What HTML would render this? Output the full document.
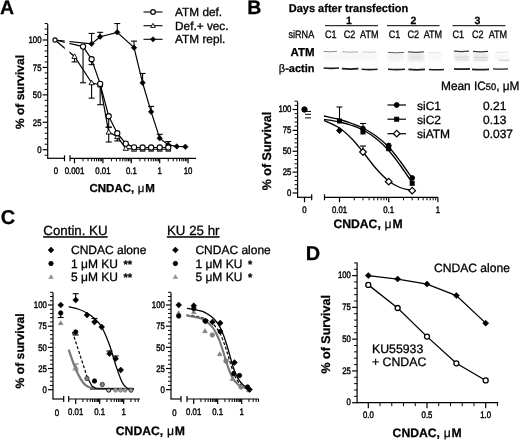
<!DOCTYPE html>
<html><head><meta charset="utf-8"><title>Figure</title>
<style>html,body{margin:0;padding:0;background:#fff;overflow:hidden}svg{display:block;font-family:'Liberation Sans', sans-serif}</style>
</head><body>
<svg width="520" height="440" viewBox="0 0 520 440" text-rendering="geometricPrecision">
<rect x="0" y="0" width="520" height="440" fill="#fff"/>
<text x="0.00" y="13.80" font-size="19.5" font-weight="bold" text-anchor="start" fill="#000"  stroke="#000" stroke-width="0.25">A</text>
<line x1="47.70" y1="24.00" x2="47.70" y2="158.30" stroke="#000" stroke-width="1.2" />
<line x1="44.70" y1="155.19" x2="47.70" y2="155.19" stroke="#000" stroke-width="1.0" />
<line x1="42.70" y1="149.70" x2="47.70" y2="149.70" stroke="#000" stroke-width="1.2" />
<line x1="44.70" y1="144.21" x2="47.70" y2="144.21" stroke="#000" stroke-width="1.0" />
<line x1="44.70" y1="138.73" x2="47.70" y2="138.73" stroke="#000" stroke-width="1.0" />
<line x1="44.70" y1="133.25" x2="47.70" y2="133.25" stroke="#000" stroke-width="1.0" />
<line x1="44.70" y1="127.76" x2="47.70" y2="127.76" stroke="#000" stroke-width="1.0" />
<line x1="42.70" y1="122.27" x2="47.70" y2="122.27" stroke="#000" stroke-width="1.2" />
<line x1="44.70" y1="116.79" x2="47.70" y2="116.79" stroke="#000" stroke-width="1.0" />
<line x1="44.70" y1="111.30" x2="47.70" y2="111.30" stroke="#000" stroke-width="1.0" />
<line x1="44.70" y1="105.82" x2="47.70" y2="105.82" stroke="#000" stroke-width="1.0" />
<line x1="44.70" y1="100.33" x2="47.70" y2="100.33" stroke="#000" stroke-width="1.0" />
<line x1="42.70" y1="94.85" x2="47.70" y2="94.85" stroke="#000" stroke-width="1.2" />
<line x1="44.70" y1="89.36" x2="47.70" y2="89.36" stroke="#000" stroke-width="1.0" />
<line x1="44.70" y1="83.88" x2="47.70" y2="83.88" stroke="#000" stroke-width="1.0" />
<line x1="44.70" y1="78.39" x2="47.70" y2="78.39" stroke="#000" stroke-width="1.0" />
<line x1="44.70" y1="72.91" x2="47.70" y2="72.91" stroke="#000" stroke-width="1.0" />
<line x1="42.70" y1="67.42" x2="47.70" y2="67.42" stroke="#000" stroke-width="1.2" />
<line x1="44.70" y1="61.94" x2="47.70" y2="61.94" stroke="#000" stroke-width="1.0" />
<line x1="44.70" y1="56.45" x2="47.70" y2="56.45" stroke="#000" stroke-width="1.0" />
<line x1="44.70" y1="50.97" x2="47.70" y2="50.97" stroke="#000" stroke-width="1.0" />
<line x1="44.70" y1="45.48" x2="47.70" y2="45.48" stroke="#000" stroke-width="1.0" />
<line x1="42.70" y1="40.00" x2="47.70" y2="40.00" stroke="#000" stroke-width="1.2" />
<line x1="44.70" y1="34.51" x2="47.70" y2="34.51" stroke="#000" stroke-width="1.0" />
<line x1="44.70" y1="29.03" x2="47.70" y2="29.03" stroke="#000" stroke-width="1.0" />
<line x1="44.70" y1="23.54" x2="47.70" y2="23.54" stroke="#000" stroke-width="1.0" />
<text transform="translate(41.50 153.00) scale(0.82 1)" x="0" y="0" font-size="9.5" font-weight="normal" text-anchor="end" fill="#000"  stroke="#000" stroke-width="0.42">0</text>
<text transform="translate(41.50 125.57) scale(0.82 1)" x="0" y="0" font-size="9.5" font-weight="normal" text-anchor="end" fill="#000"  stroke="#000" stroke-width="0.42">25</text>
<text transform="translate(41.50 98.15) scale(0.82 1)" x="0" y="0" font-size="9.5" font-weight="normal" text-anchor="end" fill="#000"  stroke="#000" stroke-width="0.42">50</text>
<text transform="translate(41.50 70.72) scale(0.82 1)" x="0" y="0" font-size="9.5" font-weight="normal" text-anchor="end" fill="#000"  stroke="#000" stroke-width="0.42">75</text>
<text transform="translate(41.50 43.30) scale(0.82 1)" x="0" y="0" font-size="9.5" font-weight="normal" text-anchor="end" fill="#000"  stroke="#000" stroke-width="0.42">100</text>
<line x1="47.10" y1="158.30" x2="64.50" y2="158.30" stroke="#000" stroke-width="1.2" />
<line x1="64.50" y1="155.30" x2="64.50" y2="161.30" stroke="#000" stroke-width="1.2" />
<line x1="70.00" y1="155.30" x2="70.00" y2="161.30" stroke="#000" stroke-width="1.2" />
<line x1="70.00" y1="158.30" x2="196.00" y2="158.30" stroke="#000" stroke-width="1.2" />
<line x1="74.50" y1="158.30" x2="74.50" y2="163.30" stroke="#000" stroke-width="1.2" />
<line x1="83.05" y1="158.30" x2="83.05" y2="161.30" stroke="#000" stroke-width="1.0" />
<line x1="88.05" y1="158.30" x2="88.05" y2="161.30" stroke="#000" stroke-width="1.0" />
<line x1="91.60" y1="158.30" x2="91.60" y2="161.30" stroke="#000" stroke-width="1.0" />
<line x1="94.35" y1="158.30" x2="94.35" y2="161.30" stroke="#000" stroke-width="1.0" />
<line x1="96.60" y1="158.30" x2="96.60" y2="161.30" stroke="#000" stroke-width="1.0" />
<line x1="98.50" y1="158.30" x2="98.50" y2="161.30" stroke="#000" stroke-width="1.0" />
<line x1="100.15" y1="158.30" x2="100.15" y2="161.30" stroke="#000" stroke-width="1.0" />
<line x1="101.60" y1="158.30" x2="101.60" y2="161.30" stroke="#000" stroke-width="1.0" />
<line x1="102.90" y1="158.30" x2="102.90" y2="163.30" stroke="#000" stroke-width="1.2" />
<line x1="111.45" y1="158.30" x2="111.45" y2="161.30" stroke="#000" stroke-width="1.0" />
<line x1="116.45" y1="158.30" x2="116.45" y2="161.30" stroke="#000" stroke-width="1.0" />
<line x1="120.00" y1="158.30" x2="120.00" y2="161.30" stroke="#000" stroke-width="1.0" />
<line x1="122.75" y1="158.30" x2="122.75" y2="161.30" stroke="#000" stroke-width="1.0" />
<line x1="125.00" y1="158.30" x2="125.00" y2="161.30" stroke="#000" stroke-width="1.0" />
<line x1="126.90" y1="158.30" x2="126.90" y2="161.30" stroke="#000" stroke-width="1.0" />
<line x1="128.55" y1="158.30" x2="128.55" y2="161.30" stroke="#000" stroke-width="1.0" />
<line x1="130.00" y1="158.30" x2="130.00" y2="161.30" stroke="#000" stroke-width="1.0" />
<line x1="131.30" y1="158.30" x2="131.30" y2="163.30" stroke="#000" stroke-width="1.2" />
<line x1="139.85" y1="158.30" x2="139.85" y2="161.30" stroke="#000" stroke-width="1.0" />
<line x1="144.85" y1="158.30" x2="144.85" y2="161.30" stroke="#000" stroke-width="1.0" />
<line x1="148.40" y1="158.30" x2="148.40" y2="161.30" stroke="#000" stroke-width="1.0" />
<line x1="151.15" y1="158.30" x2="151.15" y2="161.30" stroke="#000" stroke-width="1.0" />
<line x1="153.40" y1="158.30" x2="153.40" y2="161.30" stroke="#000" stroke-width="1.0" />
<line x1="155.30" y1="158.30" x2="155.30" y2="161.30" stroke="#000" stroke-width="1.0" />
<line x1="156.95" y1="158.30" x2="156.95" y2="161.30" stroke="#000" stroke-width="1.0" />
<line x1="158.40" y1="158.30" x2="158.40" y2="161.30" stroke="#000" stroke-width="1.0" />
<line x1="159.70" y1="158.30" x2="159.70" y2="163.30" stroke="#000" stroke-width="1.2" />
<line x1="168.25" y1="158.30" x2="168.25" y2="161.30" stroke="#000" stroke-width="1.0" />
<line x1="173.25" y1="158.30" x2="173.25" y2="161.30" stroke="#000" stroke-width="1.0" />
<line x1="176.80" y1="158.30" x2="176.80" y2="161.30" stroke="#000" stroke-width="1.0" />
<line x1="179.55" y1="158.30" x2="179.55" y2="161.30" stroke="#000" stroke-width="1.0" />
<line x1="181.80" y1="158.30" x2="181.80" y2="161.30" stroke="#000" stroke-width="1.0" />
<line x1="183.70" y1="158.30" x2="183.70" y2="161.30" stroke="#000" stroke-width="1.0" />
<line x1="185.35" y1="158.30" x2="185.35" y2="161.30" stroke="#000" stroke-width="1.0" />
<line x1="186.80" y1="158.30" x2="186.80" y2="161.30" stroke="#000" stroke-width="1.0" />
<line x1="188.10" y1="158.30" x2="188.10" y2="163.30" stroke="#000" stroke-width="1.2" />
<text transform="translate(56.00 173.60) scale(0.82 1)" x="0" y="0" font-size="9.5" font-weight="normal" text-anchor="middle" fill="#000"  stroke="#000" stroke-width="0.42">0</text>
<text transform="translate(74.50 173.60) scale(0.82 1)" x="0" y="0" font-size="9.5" font-weight="normal" text-anchor="middle" fill="#000"  stroke="#000" stroke-width="0.42">0.001</text>
<text transform="translate(102.90 173.60) scale(0.82 1)" x="0" y="0" font-size="9.5" font-weight="normal" text-anchor="middle" fill="#000"  stroke="#000" stroke-width="0.42">0.01</text>
<text transform="translate(131.30 173.60) scale(0.82 1)" x="0" y="0" font-size="9.5" font-weight="normal" text-anchor="middle" fill="#000"  stroke="#000" stroke-width="0.42">0.1</text>
<text transform="translate(159.70 173.60) scale(0.82 1)" x="0" y="0" font-size="9.5" font-weight="normal" text-anchor="middle" fill="#000"  stroke="#000" stroke-width="0.42">1</text>
<text transform="translate(188.10 173.60) scale(0.82 1)" x="0" y="0" font-size="9.5" font-weight="normal" text-anchor="middle" fill="#000"  stroke="#000" stroke-width="0.42">10</text>
<text x="89.50" y="192.30" font-size="11.5" font-weight="bold" text-anchor="start" fill="#000"  stroke="#000" stroke-width="0.25">CNDAC, <tspan font-weight="normal" dx="0.4">μ</tspan><tspan dx="0.8">M</tspan></text>
<text transform="translate(24.00 92.00) rotate(-90) scale(1.0 1)" x="0" y="0" font-size="12" font-weight="bold" text-anchor="middle" fill="#000"  stroke="#000" stroke-width="0.25">% of survival</text>
<line x1="91.60" y1="43.84" x2="91.60" y2="33.42" stroke="#000" stroke-width="1.1" />
<line x1="88.60" y1="33.42" x2="94.60" y2="33.42" stroke="#000" stroke-width="1.1" />
<line x1="100.15" y1="36.71" x2="100.15" y2="32.32" stroke="#000" stroke-width="1.1" />
<line x1="97.15" y1="32.32" x2="103.15" y2="32.32" stroke="#000" stroke-width="1.1" />
<line x1="117.25" y1="32.32" x2="117.25" y2="23.54" stroke="#000" stroke-width="1.1" />
<line x1="114.25" y1="23.54" x2="120.25" y2="23.54" stroke="#000" stroke-width="1.1" />
<line x1="134.05" y1="47.68" x2="134.05" y2="41.10" stroke="#000" stroke-width="1.1" />
<line x1="131.05" y1="41.10" x2="137.05" y2="41.10" stroke="#000" stroke-width="1.1" />
<line x1="142.60" y1="82.78" x2="142.60" y2="73.46" stroke="#000" stroke-width="1.1" />
<line x1="139.60" y1="73.46" x2="145.60" y2="73.46" stroke="#000" stroke-width="1.1" />
<line x1="151.15" y1="111.85" x2="151.15" y2="106.37" stroke="#000" stroke-width="1.1" />
<line x1="148.15" y1="106.37" x2="154.15" y2="106.37" stroke="#000" stroke-width="1.1" />
<line x1="159.70" y1="138.18" x2="159.70" y2="134.34" stroke="#000" stroke-width="1.1" />
<line x1="156.70" y1="134.34" x2="162.70" y2="134.34" stroke="#000" stroke-width="1.1" />
<line x1="168.25" y1="144.87" x2="168.25" y2="141.58" stroke="#000" stroke-width="1.1" />
<line x1="165.25" y1="141.58" x2="171.25" y2="141.58" stroke="#000" stroke-width="1.1" />
<path d="M55.00 40.00L91.60 43.84L100.15 36.71L117.25 32.32L134.05 47.68L142.60 82.78L151.15 111.85L159.70 138.18L168.25 144.87L176.80 146.41L185.35 146.74" stroke="#000" stroke-width="1.2" fill="none" />
<line x1="74.50" y1="56.45" x2="74.50" y2="61.94" stroke="#000" stroke-width="1.1" />
<line x1="71.50" y1="61.94" x2="77.50" y2="61.94" stroke="#000" stroke-width="1.1" />
<line x1="91.60" y1="82.78" x2="91.60" y2="98.14" stroke="#000" stroke-width="1.1" />
<line x1="88.60" y1="98.14" x2="94.60" y2="98.14" stroke="#000" stroke-width="1.1" />
<line x1="108.70" y1="132.15" x2="108.70" y2="127.21" stroke="#000" stroke-width="1.1" />
<line x1="105.70" y1="127.21" x2="111.70" y2="127.21" stroke="#000" stroke-width="1.1" />
<line x1="108.70" y1="132.15" x2="108.70" y2="142.02" stroke="#000" stroke-width="1.1" />
<line x1="105.70" y1="142.02" x2="111.70" y2="142.02" stroke="#000" stroke-width="1.1" />
<line x1="117.25" y1="136.54" x2="117.25" y2="140.92" stroke="#000" stroke-width="1.1" />
<line x1="114.25" y1="140.92" x2="120.25" y2="140.92" stroke="#000" stroke-width="1.1" />
<path d="M55.00 40.00L74.50 56.45L91.60 82.78L100.15 84.98L108.70 132.15L117.25 136.54L125.80 148.38L134.05 149.26L142.60 149.26L151.15 149.26L159.70 149.26L168.25 149.26" stroke="#000" stroke-width="1.2" fill="none" />
<line x1="83.05" y1="46.58" x2="83.05" y2="82.78" stroke="#000" stroke-width="1.1" />
<line x1="80.05" y1="82.78" x2="86.05" y2="82.78" stroke="#000" stroke-width="1.1" />
<line x1="91.60" y1="59.20" x2="91.60" y2="64.68" stroke="#000" stroke-width="1.1" />
<line x1="88.60" y1="64.68" x2="94.60" y2="64.68" stroke="#000" stroke-width="1.1" />
<line x1="100.15" y1="83.88" x2="100.15" y2="104.72" stroke="#000" stroke-width="1.1" />
<line x1="97.15" y1="104.72" x2="103.15" y2="104.72" stroke="#000" stroke-width="1.1" />
<line x1="108.70" y1="116.24" x2="108.70" y2="127.21" stroke="#000" stroke-width="1.1" />
<line x1="105.70" y1="127.21" x2="111.70" y2="127.21" stroke="#000" stroke-width="1.1" />
<path d="M55.00 40.00L83.05 46.58L91.60 59.20L100.15 83.88L108.70 116.24L117.25 133.25L125.80 143.67L134.05 147.29L142.60 147.51L151.15 147.51L159.70 147.51L168.25 147.51" stroke="#000" stroke-width="1.2" fill="none" />
<rect x="64.8" y="36" width="4.6" height="24" fill="#fff"/>
<path d="M88.85 43.84L91.60 41.09L94.35 43.84L91.60 46.59Z" fill="#000" stroke="#000" stroke-width="0.6"/>
<path d="M97.40 36.71L100.15 33.96L102.90 36.71L100.15 39.46Z" fill="#000" stroke="#000" stroke-width="0.6"/>
<path d="M114.50 32.32L117.25 29.57L120.00 32.32L117.25 35.07Z" fill="#000" stroke="#000" stroke-width="0.6"/>
<path d="M131.30 47.68L134.05 44.93L136.80 47.68L134.05 50.43Z" fill="#000" stroke="#000" stroke-width="0.6"/>
<path d="M139.85 82.78L142.60 80.03L145.35 82.78L142.60 85.53Z" fill="#000" stroke="#000" stroke-width="0.6"/>
<path d="M148.40 111.85L151.15 109.10L153.90 111.85L151.15 114.60Z" fill="#000" stroke="#000" stroke-width="0.6"/>
<path d="M156.95 138.18L159.70 135.43L162.45 138.18L159.70 140.93Z" fill="#000" stroke="#000" stroke-width="0.6"/>
<path d="M165.50 144.87L168.25 142.12L171.00 144.87L168.25 147.62Z" fill="#000" stroke="#000" stroke-width="0.6"/>
<path d="M174.05 146.41L176.80 143.66L179.55 146.41L176.80 149.16Z" fill="#000" stroke="#000" stroke-width="0.6"/>
<path d="M182.60 146.74L185.35 143.99L188.10 146.74L185.35 149.49Z" fill="#000" stroke="#000" stroke-width="0.6"/>
<path d="M71.90 58.40L74.50 53.85L77.10 58.40Z" fill="#fff" stroke="#000" stroke-width="0.9"/>
<path d="M89.00 84.73L91.60 80.18L94.20 84.73Z" fill="#fff" stroke="#000" stroke-width="0.9"/>
<path d="M97.55 86.93L100.15 82.38L102.75 86.93Z" fill="#fff" stroke="#000" stroke-width="0.9"/>
<path d="M106.10 134.10L108.70 129.55L111.30 134.10Z" fill="#fff" stroke="#000" stroke-width="0.9"/>
<path d="M114.65 138.49L117.25 133.94L119.85 138.49Z" fill="#fff" stroke="#000" stroke-width="0.9"/>
<path d="M123.20 150.33L125.80 145.78L128.40 150.33Z" fill="#fff" stroke="#000" stroke-width="0.9"/>
<path d="M131.45 151.21L134.05 146.66L136.65 151.21Z" fill="#fff" stroke="#000" stroke-width="0.9"/>
<path d="M140.00 151.21L142.60 146.66L145.20 151.21Z" fill="#fff" stroke="#000" stroke-width="0.9"/>
<path d="M148.55 151.21L151.15 146.66L153.75 151.21Z" fill="#fff" stroke="#000" stroke-width="0.9"/>
<path d="M157.10 151.21L159.70 146.66L162.30 151.21Z" fill="#fff" stroke="#000" stroke-width="0.9"/>
<path d="M165.65 151.21L168.25 146.66L170.85 151.21Z" fill="#fff" stroke="#000" stroke-width="0.9"/>
<circle cx="55.00" cy="40.00" r="2.1" fill="#fff" stroke="#000" stroke-width="1.1"/>
<circle cx="83.05" cy="46.58" r="2.6" fill="#fff" stroke="#000" stroke-width="1.1"/>
<circle cx="91.60" cy="59.20" r="2.6" fill="#fff" stroke="#000" stroke-width="1.1"/>
<circle cx="100.15" cy="83.88" r="2.6" fill="#fff" stroke="#000" stroke-width="1.1"/>
<circle cx="108.70" cy="116.24" r="2.6" fill="#fff" stroke="#000" stroke-width="1.1"/>
<circle cx="117.25" cy="133.25" r="2.6" fill="#fff" stroke="#000" stroke-width="1.1"/>
<circle cx="125.80" cy="143.67" r="2.6" fill="#fff" stroke="#000" stroke-width="1.1"/>
<circle cx="134.05" cy="147.29" r="2.6" fill="#fff" stroke="#000" stroke-width="1.1"/>
<circle cx="142.60" cy="147.51" r="2.6" fill="#fff" stroke="#000" stroke-width="1.1"/>
<circle cx="151.15" cy="147.51" r="2.6" fill="#fff" stroke="#000" stroke-width="1.1"/>
<circle cx="159.70" cy="147.51" r="2.6" fill="#fff" stroke="#000" stroke-width="1.1"/>
<circle cx="168.25" cy="147.51" r="2.6" fill="#fff" stroke="#000" stroke-width="1.1"/>
<line x1="143.50" y1="12.00" x2="162.50" y2="12.00" stroke="#000" stroke-width="1.1" />
<circle cx="153.00" cy="12.00" r="2.3" fill="#fff" stroke="#000" stroke-width="1.2"/>
<text x="175.10" y="16.00" font-size="11.8" font-weight="normal" text-anchor="start" fill="#000"  stroke="#000" stroke-width="0.3">ATM def.</text>
<line x1="143.50" y1="25.70" x2="162.50" y2="25.70" stroke="#000" stroke-width="1.1" />
<path d="M150.70 27.43L153.00 23.40L155.30 27.43Z" fill="#fff" stroke="#000" stroke-width="0.9"/>
<text x="175.10" y="29.70" font-size="11.8" font-weight="normal" text-anchor="start" fill="#000"  stroke="#000" stroke-width="0.3">Def.+ vec.</text>
<line x1="143.50" y1="39.30" x2="162.50" y2="39.30" stroke="#000" stroke-width="1.1" />
<path d="M150.40 39.30L153.00 36.70L155.60 39.30L153.00 41.90Z" fill="#000" stroke="#000" stroke-width="0.6"/>
<text x="175.10" y="43.30" font-size="11.8" font-weight="normal" text-anchor="start" fill="#000"  stroke="#000" stroke-width="0.3">ATM repl.</text>
<text x="247.20" y="14.00" font-size="19.5" font-weight="bold" text-anchor="start" fill="#000"  stroke="#000" stroke-width="0.25">B</text>
<text x="288.70" y="12.40" font-size="11.3" font-weight="bold" text-anchor="start" fill="#000" textLength="119.5" lengthAdjust="spacingAndGlyphs" stroke="#000" stroke-width="0.25">Days after transfection</text>
<text x="349.00" y="23.90" font-size="10.5" font-weight="bold" text-anchor="middle" fill="#000"  stroke="#000" stroke-width="0.25">1</text>
<line x1="325.00" y1="25.70" x2="378.00" y2="25.70" stroke="#000" stroke-width="1.0" />
<text x="413.50" y="23.90" font-size="10.5" font-weight="bold" text-anchor="middle" fill="#000"  stroke="#000" stroke-width="0.25">2</text>
<line x1="387.00" y1="25.70" x2="439.50" y2="25.70" stroke="#000" stroke-width="1.0" />
<text x="477.50" y="23.90" font-size="10.5" font-weight="bold" text-anchor="middle" fill="#000"  stroke="#000" stroke-width="0.25">3</text>
<line x1="452.50" y1="25.70" x2="505.50" y2="25.70" stroke="#000" stroke-width="1.0" />
<text transform="translate(288.50 38.40) scale(0.84 1)" x="0" y="0" font-size="10.8" font-weight="normal" text-anchor="start" fill="#000"  stroke="#000" stroke-width="0.3">siRNA</text>
<text transform="translate(325.00 38.40) scale(0.84 1)" x="0" y="0" font-size="10.8" font-weight="normal" text-anchor="start" fill="#000"  stroke="#000" stroke-width="0.3">C1</text>
<text transform="translate(343.70 38.40) scale(0.84 1)" x="0" y="0" font-size="10.8" font-weight="normal" text-anchor="start" fill="#000"  stroke="#000" stroke-width="0.3">C2</text>
<text transform="translate(360.00 38.40) scale(0.84 1)" x="0" y="0" font-size="10.8" font-weight="normal" text-anchor="start" fill="#000"  stroke="#000" stroke-width="0.3">ATM</text>
<text transform="translate(388.70 38.40) scale(0.84 1)" x="0" y="0" font-size="10.8" font-weight="normal" text-anchor="start" fill="#000"  stroke="#000" stroke-width="0.3">C1</text>
<text transform="translate(407.50 38.40) scale(0.84 1)" x="0" y="0" font-size="10.8" font-weight="normal" text-anchor="start" fill="#000"  stroke="#000" stroke-width="0.3">C2</text>
<text transform="translate(423.70 38.40) scale(0.84 1)" x="0" y="0" font-size="10.8" font-weight="normal" text-anchor="start" fill="#000"  stroke="#000" stroke-width="0.3">ATM</text>
<text transform="translate(452.50 38.40) scale(0.84 1)" x="0" y="0" font-size="10.8" font-weight="normal" text-anchor="start" fill="#000"  stroke="#000" stroke-width="0.3">C1</text>
<text transform="translate(472.00 38.40) scale(0.84 1)" x="0" y="0" font-size="10.8" font-weight="normal" text-anchor="start" fill="#000"  stroke="#000" stroke-width="0.3">C2</text>
<text transform="translate(488.70 38.40) scale(0.84 1)" x="0" y="0" font-size="10.8" font-weight="normal" text-anchor="start" fill="#000"  stroke="#000" stroke-width="0.3">ATM</text>
<text x="314.50" y="56.00" font-size="11.5" font-weight="bold" text-anchor="end" fill="#000"  stroke="#000" stroke-width="0.25">ATM</text>
<text x="314.50" y="72.00" font-size="11" font-weight="bold" text-anchor="end" fill="#000"  stroke="#000" stroke-width="0.25"><tspan font-weight="normal">β</tspan>-actin</text>
<defs><filter id="bl" x="-20%" y="-50%" width="140%" height="200%"><feGaussianBlur stdDeviation="1.6"/></filter><filter id="bs" x="-10%" y="-100%" width="120%" height="300%"><feGaussianBlur stdDeviation="0.35"/></filter></defs>
<g filter="url(#bl)">
<rect x="324" y="52" width="54" height="9" fill="#f8f8f8"/>
<rect x="388" y="53" width="16" height="8" fill="#f2f2f2"/>
<rect x="408" y="53" width="16" height="8" fill="#e6e6e6"/>
<rect x="428" y="53" width="14" height="8" fill="#f8f8f8"/>
<rect x="454" y="53" width="15" height="8" fill="#ececec"/>
<rect x="473" y="53" width="15" height="8" fill="#e9e9e9"/>
<rect x="494" y="53" width="15" height="8" fill="#f8f8f8"/>
</g>
<g filter="url(#bs)">
<path d="M323.6 51.4Q330.3 52.2 337.0 51.4" stroke="#8a8a8a" stroke-width="1.0" fill="none" opacity="1.0"/>
<path d="M342.0 51.8Q350.0 52.6 358.0 51.8" stroke="#a8a8a8" stroke-width="1.0" fill="none" opacity="1.0"/>
<path d="M362.0 51.9Q369.0 52.7 376.0 51.9" stroke="#c8c8c8" stroke-width="0.9" fill="none" opacity="1.0"/>
<path d="M388.0 52.4Q396.0 53.2 404.0 52.4" stroke="#606060" stroke-width="1.0" fill="none" opacity="1.0"/>
<path d="M408.0 51.9Q416.0 52.7 424.0 51.9" stroke="#505050" stroke-width="1.2" fill="none" opacity="1.0"/>
<path d="M428.0 52.5Q434.5 53.3 441.0 52.5" stroke="#e2e2e2" stroke-width="0.9" fill="none" opacity="1.0"/>
<path d="M454.0 51.2Q461.5 52.0 469.0 51.2" stroke="#3a3a3a" stroke-width="1.2" fill="none" opacity="1.0"/>
<path d="M473.0 51.4Q480.5 52.2 488.0 51.4" stroke="#3a3a3a" stroke-width="1.3" fill="none" opacity="1.0"/>
<path d="M496.0 52.0Q502.5 52.8 509.0 52.0" stroke="#e0e0e0" stroke-width="0.9" fill="none" opacity="1.0"/>
<path d="M455.0 57.0Q462.0 57.8 469.0 57.0" stroke="#d0d0d0" stroke-width="0.8" fill="none" opacity="1.0"/>
<path d="M455.0 59.5Q462.0 60.3 469.0 59.5" stroke="#d8d8d8" stroke-width="0.8" fill="none" opacity="1.0"/>
<path d="M474.0 57.5Q481.0 58.3 488.0 57.5" stroke="#cdcdcd" stroke-width="0.8" fill="none" opacity="1.0"/>
<path d="M474.0 60.0Q481.0 60.8 488.0 60.0" stroke="#d5d5d5" stroke-width="0.8" fill="none" opacity="1.0"/>
<path d="M499.0 60.0Q504.5 60.8 510.0 60.0" stroke="#c8c8c8" stroke-width="0.9" fill="none" opacity="1.0"/>
<path d="M323.6 68.0Q331.3 68.8 339.0 68.0" stroke="#1a1a1a" stroke-width="1.7" fill="none" opacity="1.0"/>
<path d="M342.0 68.7Q350.2 69.5 358.4 68.7" stroke="#1a1a1a" stroke-width="1.7" fill="none" opacity="1.0"/>
<path d="M361.6 69.2Q369.6 70.0 377.6 69.2" stroke="#1a1a1a" stroke-width="1.6" fill="none" opacity="1.0"/>
<path d="M388.0 69.2Q396.5 70.0 405.0 69.2" stroke="#1a1a1a" stroke-width="1.6" fill="none" opacity="1.0"/>
<path d="M408.4 69.4Q416.7 70.2 425.0 69.4" stroke="#1a1a1a" stroke-width="1.7" fill="none" opacity="1.0"/>
<path d="M429.0 69.4Q436.5 70.2 444.0 69.4" stroke="#1a1a1a" stroke-width="1.5" fill="none" opacity="1.0"/>
<path d="M454.0 68.8Q462.0 69.6 470.0 68.8" stroke="#1a1a1a" stroke-width="1.7" fill="none" opacity="1.0"/>
<path d="M472.0 69.3Q480.5 70.1 489.0 69.3" stroke="#1a1a1a" stroke-width="1.7" fill="none" opacity="1.0"/>
<path d="M493.0 68.8Q500.5 69.6 508.0 68.8" stroke="#1a1a1a" stroke-width="1.3" fill="none" opacity="1.0"/>
</g>
<text x="441.00" y="90.00" font-size="12.2" font-weight="normal" text-anchor="start" fill="#000" textLength="78.5" lengthAdjust="spacingAndGlyphs" stroke="#000" stroke-width="0.3">Mean IC<tspan font-size="9.5">50</tspan>, μM</text>
<line x1="387.50" y1="105.00" x2="406.00" y2="105.00" stroke="#000" stroke-width="1.2" />
<circle cx="396.70" cy="105.00" r="2.4" fill="#000" stroke="#000" stroke-width="1.0"/>
<text x="417.00" y="109.50" font-size="12" font-weight="normal" text-anchor="start" fill="#000"  stroke="#000" stroke-width="0.3">siC1</text>
<text x="483.00" y="109.50" font-size="12" font-weight="normal" text-anchor="start" fill="#000"  stroke="#000" stroke-width="0.3">0.21</text>
<line x1="387.50" y1="119.20" x2="406.00" y2="119.20" stroke="#000" stroke-width="1.2" />
<rect x="394.70" y="117.20" width="4.0" height="4.0" fill="#000" stroke="#000" stroke-width="1.0"/>
<text x="417.00" y="123.70" font-size="12" font-weight="normal" text-anchor="start" fill="#000"  stroke="#000" stroke-width="0.3">siC2</text>
<text x="483.00" y="123.70" font-size="12" font-weight="normal" text-anchor="start" fill="#000"  stroke="#000" stroke-width="0.3">0.13</text>
<line x1="387.50" y1="133.70" x2="406.00" y2="133.70" stroke="#000" stroke-width="1.2" />
<path d="M393.40 133.70L396.70 130.40L400.00 133.70L396.70 137.00Z" fill="#fff" stroke="#000" stroke-width="1.2"/>
<text x="417.00" y="138.20" font-size="12" font-weight="normal" text-anchor="start" fill="#000"  stroke="#000" stroke-width="0.3">siATM</text>
<text x="483.00" y="138.20" font-size="12" font-weight="normal" text-anchor="start" fill="#000"  stroke="#000" stroke-width="0.3">0.037</text>
<line x1="297.60" y1="101.50" x2="297.60" y2="197.30" stroke="#000" stroke-width="1.2" />
<line x1="292.60" y1="193.00" x2="297.60" y2="193.00" stroke="#000" stroke-width="1.2" />
<line x1="294.60" y1="188.82" x2="297.60" y2="188.82" stroke="#000" stroke-width="1.0" />
<line x1="294.60" y1="184.65" x2="297.60" y2="184.65" stroke="#000" stroke-width="1.0" />
<line x1="294.60" y1="180.47" x2="297.60" y2="180.47" stroke="#000" stroke-width="1.0" />
<line x1="294.60" y1="176.30" x2="297.60" y2="176.30" stroke="#000" stroke-width="1.0" />
<line x1="292.60" y1="172.12" x2="297.60" y2="172.12" stroke="#000" stroke-width="1.2" />
<line x1="294.60" y1="167.95" x2="297.60" y2="167.95" stroke="#000" stroke-width="1.0" />
<line x1="294.60" y1="163.78" x2="297.60" y2="163.78" stroke="#000" stroke-width="1.0" />
<line x1="294.60" y1="159.60" x2="297.60" y2="159.60" stroke="#000" stroke-width="1.0" />
<line x1="294.60" y1="155.43" x2="297.60" y2="155.43" stroke="#000" stroke-width="1.0" />
<line x1="292.60" y1="151.25" x2="297.60" y2="151.25" stroke="#000" stroke-width="1.2" />
<line x1="294.60" y1="147.07" x2="297.60" y2="147.07" stroke="#000" stroke-width="1.0" />
<line x1="294.60" y1="142.90" x2="297.60" y2="142.90" stroke="#000" stroke-width="1.0" />
<line x1="294.60" y1="138.72" x2="297.60" y2="138.72" stroke="#000" stroke-width="1.0" />
<line x1="294.60" y1="134.55" x2="297.60" y2="134.55" stroke="#000" stroke-width="1.0" />
<line x1="292.60" y1="130.38" x2="297.60" y2="130.38" stroke="#000" stroke-width="1.2" />
<line x1="294.60" y1="126.20" x2="297.60" y2="126.20" stroke="#000" stroke-width="1.0" />
<line x1="294.60" y1="122.03" x2="297.60" y2="122.03" stroke="#000" stroke-width="1.0" />
<line x1="294.60" y1="117.85" x2="297.60" y2="117.85" stroke="#000" stroke-width="1.0" />
<line x1="294.60" y1="113.67" x2="297.60" y2="113.67" stroke="#000" stroke-width="1.0" />
<line x1="292.60" y1="109.50" x2="297.60" y2="109.50" stroke="#000" stroke-width="1.2" />
<line x1="294.60" y1="105.33" x2="297.60" y2="105.33" stroke="#000" stroke-width="1.0" />
<line x1="294.60" y1="101.15" x2="297.60" y2="101.15" stroke="#000" stroke-width="1.0" />
<text transform="translate(291.40 195.80) scale(0.82 1)" x="0" y="0" font-size="9.5" font-weight="normal" text-anchor="end" fill="#000"  stroke="#000" stroke-width="0.42">0</text>
<text transform="translate(291.40 174.93) scale(0.82 1)" x="0" y="0" font-size="9.5" font-weight="normal" text-anchor="end" fill="#000"  stroke="#000" stroke-width="0.42">25</text>
<text transform="translate(291.40 154.05) scale(0.82 1)" x="0" y="0" font-size="9.5" font-weight="normal" text-anchor="end" fill="#000"  stroke="#000" stroke-width="0.42">50</text>
<text transform="translate(291.40 133.18) scale(0.82 1)" x="0" y="0" font-size="9.5" font-weight="normal" text-anchor="end" fill="#000"  stroke="#000" stroke-width="0.42">75</text>
<text transform="translate(291.40 112.30) scale(0.82 1)" x="0" y="0" font-size="9.5" font-weight="normal" text-anchor="end" fill="#000"  stroke="#000" stroke-width="0.42">100</text>
<line x1="297.00" y1="197.30" x2="311.70" y2="197.30" stroke="#000" stroke-width="1.2" />
<line x1="311.70" y1="194.30" x2="311.70" y2="200.30" stroke="#000" stroke-width="1.2" />
<line x1="304.50" y1="197.30" x2="304.50" y2="202.30" stroke="#000" stroke-width="1.2" />
<line x1="324.50" y1="194.30" x2="324.50" y2="200.30" stroke="#000" stroke-width="1.2" />
<line x1="324.50" y1="197.30" x2="438.00" y2="197.30" stroke="#000" stroke-width="1.2" />
<line x1="339.50" y1="197.30" x2="339.50" y2="202.30" stroke="#000" stroke-width="1.2" />
<line x1="354.31" y1="197.30" x2="354.31" y2="200.30" stroke="#000" stroke-width="1.0" />
<line x1="362.97" y1="197.30" x2="362.97" y2="200.30" stroke="#000" stroke-width="1.0" />
<line x1="369.12" y1="197.30" x2="369.12" y2="200.30" stroke="#000" stroke-width="1.0" />
<line x1="373.89" y1="197.30" x2="373.89" y2="200.30" stroke="#000" stroke-width="1.0" />
<line x1="377.79" y1="197.30" x2="377.79" y2="200.30" stroke="#000" stroke-width="1.0" />
<line x1="381.08" y1="197.30" x2="381.08" y2="200.30" stroke="#000" stroke-width="1.0" />
<line x1="383.93" y1="197.30" x2="383.93" y2="200.30" stroke="#000" stroke-width="1.0" />
<line x1="386.45" y1="197.30" x2="386.45" y2="200.30" stroke="#000" stroke-width="1.0" />
<line x1="388.70" y1="197.30" x2="388.70" y2="202.30" stroke="#000" stroke-width="1.2" />
<line x1="403.51" y1="197.30" x2="403.51" y2="200.30" stroke="#000" stroke-width="1.0" />
<line x1="412.17" y1="197.30" x2="412.17" y2="200.30" stroke="#000" stroke-width="1.0" />
<line x1="418.32" y1="197.30" x2="418.32" y2="200.30" stroke="#000" stroke-width="1.0" />
<line x1="423.09" y1="197.30" x2="423.09" y2="200.30" stroke="#000" stroke-width="1.0" />
<line x1="426.99" y1="197.30" x2="426.99" y2="200.30" stroke="#000" stroke-width="1.0" />
<line x1="430.28" y1="197.30" x2="430.28" y2="200.30" stroke="#000" stroke-width="1.0" />
<line x1="433.13" y1="197.30" x2="433.13" y2="200.30" stroke="#000" stroke-width="1.0" />
<line x1="435.65" y1="197.30" x2="435.65" y2="200.30" stroke="#000" stroke-width="1.0" />
<line x1="437.90" y1="197.30" x2="437.90" y2="202.30" stroke="#000" stroke-width="1.2" />
<text transform="translate(304.50 213.10) scale(0.82 1)" x="0" y="0" font-size="9.5" font-weight="normal" text-anchor="middle" fill="#000"  stroke="#000" stroke-width="0.42">0</text>
<text transform="translate(339.50 213.10) scale(0.82 1)" x="0" y="0" font-size="9.5" font-weight="normal" text-anchor="middle" fill="#000"  stroke="#000" stroke-width="0.42">0.01</text>
<text transform="translate(388.70 213.10) scale(0.82 1)" x="0" y="0" font-size="9.5" font-weight="normal" text-anchor="middle" fill="#000"  stroke="#000" stroke-width="0.42">0.1</text>
<text transform="translate(437.90 213.10) scale(0.82 1)" x="0" y="0" font-size="9.5" font-weight="normal" text-anchor="middle" fill="#000"  stroke="#000" stroke-width="0.42">1</text>
<text x="333.40" y="228.40" font-size="12.2" font-weight="bold" text-anchor="start" fill="#000"  stroke="#000" stroke-width="0.25">CNDAC, <tspan font-weight="normal" dx="0.4">μ</tspan><tspan dx="0.8">M</tspan></text>
<text transform="translate(271.20 151.00) rotate(-90) scale(1.0 1)" x="0" y="0" font-size="12.5" font-weight="bold" text-anchor="middle" fill="#000"  stroke="#000" stroke-width="0.25">% of Survival</text>
<line x1="305.00" y1="111.40" x2="311.00" y2="111.40" stroke="#000" stroke-width="1.0" />
<line x1="305.00" y1="114.30" x2="311.00" y2="114.30" stroke="#000" stroke-width="1.0" />
<line x1="305.00" y1="117.90" x2="311.00" y2="117.90" stroke="#000" stroke-width="1.0" />
<circle cx="304.50" cy="109.50" r="2.7" fill="#000" stroke="#000" stroke-width="1.0"/>
<path d="M324.00 116.00C326.58 116.58 334.83 118.25 339.50 119.50C344.17 120.75 348.08 122.08 352.00 123.50C355.92 124.92 359.00 125.92 363.00 128.00C367.00 130.08 371.72 132.83 376.00 136.00C380.28 139.17 384.70 142.83 388.70 147.00C392.70 151.17 396.12 155.83 400.00 161.00C403.88 166.17 410.00 175.17 412.00 178.00" stroke="#000" stroke-width="1.3" fill="none" />
<path d="M324.00 119.50C326.58 119.92 334.83 121.00 339.50 122.00C344.17 123.00 348.08 124.17 352.00 125.50C355.92 126.83 359.00 127.83 363.00 130.00C367.00 132.17 371.72 135.08 376.00 138.50C380.28 141.92 384.70 146.08 388.70 150.50C392.70 154.92 396.12 159.67 400.00 165.00C403.88 170.33 410.00 179.58 412.00 182.50" stroke="#000" stroke-width="1.3" fill="none" />
<path d="M324.00 120.50C326.58 121.75 334.83 124.92 339.50 128.00C344.17 131.08 348.08 135.00 352.00 139.00C355.92 143.00 359.00 147.08 363.00 152.00C367.00 156.92 371.72 163.67 376.00 168.50C380.28 173.33 384.70 177.83 388.70 181.00C392.70 184.17 396.12 185.92 400.00 187.50C403.88 189.08 410.00 190.00 412.00 190.50" stroke="#000" stroke-width="1.3" fill="none" />
<line x1="339.50" y1="121.00" x2="339.50" y2="107.00" stroke="#000" stroke-width="1.1" />
<line x1="336.50" y1="107.00" x2="342.50" y2="107.00" stroke="#000" stroke-width="1.1" />
<line x1="362.97" y1="128.70" x2="362.97" y2="123.50" stroke="#000" stroke-width="1.1" />
<line x1="359.97" y1="123.50" x2="365.97" y2="123.50" stroke="#000" stroke-width="1.1" />
<line x1="362.97" y1="152.00" x2="362.97" y2="146.00" stroke="#000" stroke-width="1.1" />
<line x1="359.97" y1="146.00" x2="365.97" y2="146.00" stroke="#000" stroke-width="1.1" />
<rect x="337.50" y="119.00" width="4.0" height="4.0" fill="#000" stroke="#000" stroke-width="1.0"/>
<path d="M336.30 130.50L339.50 127.30L342.70 130.50L339.50 133.70Z" fill="#000" stroke="#000" stroke-width="0.6"/>
<circle cx="362.97" cy="128.70" r="2.4" fill="#000" stroke="#000" stroke-width="1.0"/>
<rect x="360.97" y="130.00" width="4.0" height="4.0" fill="#000" stroke="#000" stroke-width="1.0"/>
<circle cx="388.70" cy="145.50" r="2.4" fill="#000" stroke="#000" stroke-width="1.0"/>
<rect x="386.70" y="146.70" width="4.0" height="4.0" fill="#000" stroke="#000" stroke-width="1.0"/>
<circle cx="412.17" cy="178.00" r="2.4" fill="#000" stroke="#000" stroke-width="1.0"/>
<rect x="410.17" y="181.30" width="4.0" height="4.0" fill="#000" stroke="#000" stroke-width="1.0"/>
<path d="M359.67 152.00L362.97 148.70L366.27 152.00L362.97 155.30Z" fill="#fff" stroke="#000" stroke-width="1.2"/>
<path d="M385.40 181.70L388.70 178.40L392.00 181.70L388.70 185.00Z" fill="#fff" stroke="#000" stroke-width="1.2"/>
<path d="M408.87 190.70L412.17 187.40L415.47 190.70L412.17 194.00Z" fill="#fff" stroke="#000" stroke-width="1.2"/>
<text x="0.80" y="223.80" font-size="20" font-weight="bold" text-anchor="start" fill="#000"  stroke="#000" stroke-width="0.25">C</text>
<text x="43.30" y="235.30" font-size="13.3" font-weight="normal" text-anchor="start" fill="#000" text-decoration="underline" stroke="#000" stroke-width="0.3">Contin. KU</text>
<path d="M48.10 250.00L51.00 247.10L53.90 250.00L51.00 252.90Z" fill="#000" stroke="#000" stroke-width="0.6"/>
<circle cx="51.00" cy="263.50" r="2.2" fill="#000" stroke="#000" stroke-width="0.8"/>
<path d="M48.80 278.55L51.00 274.70L53.20 278.55Z" fill="#909090" stroke="#909090" stroke-width="0.6"/>
<text x="71.00" y="254.00" font-size="12.0" font-weight="normal" text-anchor="start" fill="#000"  stroke="#000" stroke-width="0.3">CNDAC alone</text>
<text x="71.00" y="267.60" font-size="12.0" font-weight="normal" text-anchor="start" fill="#000"  stroke="#000" stroke-width="0.3">1 μM KU</text>
<text x="123.60" y="268.00" font-size="11" font-weight="bold" text-anchor="start" fill="#000"  stroke="#000" stroke-width="0.25">**</text>
<text x="71.00" y="281.00" font-size="12.0" font-weight="normal" text-anchor="start" fill="#000"  stroke="#000" stroke-width="0.3">5 μM KU</text>
<text x="123.60" y="281.00" font-size="11" font-weight="bold" text-anchor="start" fill="#000"  stroke="#000" stroke-width="0.25">**</text>
<line x1="53.00" y1="292.50" x2="53.00" y2="399.00" stroke="#000" stroke-width="1.2" />
<line x1="48.00" y1="389.70" x2="53.00" y2="389.70" stroke="#000" stroke-width="1.2" />
<line x1="50.00" y1="385.46" x2="53.00" y2="385.46" stroke="#000" stroke-width="1.0" />
<line x1="50.00" y1="381.23" x2="53.00" y2="381.23" stroke="#000" stroke-width="1.0" />
<line x1="50.00" y1="377.00" x2="53.00" y2="377.00" stroke="#000" stroke-width="1.0" />
<line x1="50.00" y1="372.76" x2="53.00" y2="372.76" stroke="#000" stroke-width="1.0" />
<line x1="48.00" y1="368.52" x2="53.00" y2="368.52" stroke="#000" stroke-width="1.2" />
<line x1="50.00" y1="364.29" x2="53.00" y2="364.29" stroke="#000" stroke-width="1.0" />
<line x1="50.00" y1="360.06" x2="53.00" y2="360.06" stroke="#000" stroke-width="1.0" />
<line x1="50.00" y1="355.82" x2="53.00" y2="355.82" stroke="#000" stroke-width="1.0" />
<line x1="50.00" y1="351.58" x2="53.00" y2="351.58" stroke="#000" stroke-width="1.0" />
<line x1="48.00" y1="347.35" x2="53.00" y2="347.35" stroke="#000" stroke-width="1.2" />
<line x1="50.00" y1="343.12" x2="53.00" y2="343.12" stroke="#000" stroke-width="1.0" />
<line x1="50.00" y1="338.88" x2="53.00" y2="338.88" stroke="#000" stroke-width="1.0" />
<line x1="50.00" y1="334.64" x2="53.00" y2="334.64" stroke="#000" stroke-width="1.0" />
<line x1="50.00" y1="330.41" x2="53.00" y2="330.41" stroke="#000" stroke-width="1.0" />
<line x1="48.00" y1="326.18" x2="53.00" y2="326.18" stroke="#000" stroke-width="1.2" />
<line x1="50.00" y1="321.94" x2="53.00" y2="321.94" stroke="#000" stroke-width="1.0" />
<line x1="50.00" y1="317.70" x2="53.00" y2="317.70" stroke="#000" stroke-width="1.0" />
<line x1="50.00" y1="313.47" x2="53.00" y2="313.47" stroke="#000" stroke-width="1.0" />
<line x1="50.00" y1="309.24" x2="53.00" y2="309.24" stroke="#000" stroke-width="1.0" />
<line x1="48.00" y1="305.00" x2="53.00" y2="305.00" stroke="#000" stroke-width="1.2" />
<line x1="50.00" y1="300.76" x2="53.00" y2="300.76" stroke="#000" stroke-width="1.0" />
<line x1="50.00" y1="296.53" x2="53.00" y2="296.53" stroke="#000" stroke-width="1.0" />
<line x1="50.00" y1="292.30" x2="53.00" y2="292.30" stroke="#000" stroke-width="1.0" />
<text transform="translate(46.80 393.00) scale(0.82 1)" x="0" y="0" font-size="9.5" font-weight="normal" text-anchor="end" fill="#000"  stroke="#000" stroke-width="0.42">0</text>
<text transform="translate(46.80 371.82) scale(0.82 1)" x="0" y="0" font-size="9.5" font-weight="normal" text-anchor="end" fill="#000"  stroke="#000" stroke-width="0.42">25</text>
<text transform="translate(46.80 350.65) scale(0.82 1)" x="0" y="0" font-size="9.5" font-weight="normal" text-anchor="end" fill="#000"  stroke="#000" stroke-width="0.42">50</text>
<text transform="translate(46.80 329.48) scale(0.82 1)" x="0" y="0" font-size="9.5" font-weight="normal" text-anchor="end" fill="#000"  stroke="#000" stroke-width="0.42">75</text>
<text transform="translate(46.80 308.30) scale(0.82 1)" x="0" y="0" font-size="9.5" font-weight="normal" text-anchor="end" fill="#000"  stroke="#000" stroke-width="0.42">100</text>
<line x1="52.40" y1="399.00" x2="63.70" y2="399.00" stroke="#000" stroke-width="1.2" />
<line x1="63.70" y1="396.00" x2="63.70" y2="402.00" stroke="#000" stroke-width="1.2" />
<line x1="68.70" y1="396.00" x2="68.70" y2="402.00" stroke="#000" stroke-width="1.2" />
<line x1="68.70" y1="399.00" x2="140.00" y2="399.00" stroke="#000" stroke-width="1.2" />
<line x1="75.70" y1="399.00" x2="75.70" y2="404.00" stroke="#000" stroke-width="1.2" />
<line x1="82.92" y1="399.00" x2="82.92" y2="402.00" stroke="#000" stroke-width="1.0" />
<line x1="87.15" y1="399.00" x2="87.15" y2="402.00" stroke="#000" stroke-width="1.0" />
<line x1="90.15" y1="399.00" x2="90.15" y2="402.00" stroke="#000" stroke-width="1.0" />
<line x1="92.48" y1="399.00" x2="92.48" y2="402.00" stroke="#000" stroke-width="1.0" />
<line x1="94.38" y1="399.00" x2="94.38" y2="402.00" stroke="#000" stroke-width="1.0" />
<line x1="95.98" y1="399.00" x2="95.98" y2="402.00" stroke="#000" stroke-width="1.0" />
<line x1="97.37" y1="399.00" x2="97.37" y2="402.00" stroke="#000" stroke-width="1.0" />
<line x1="98.60" y1="399.00" x2="98.60" y2="402.00" stroke="#000" stroke-width="1.0" />
<line x1="99.70" y1="399.00" x2="99.70" y2="404.00" stroke="#000" stroke-width="1.2" />
<line x1="106.92" y1="399.00" x2="106.92" y2="402.00" stroke="#000" stroke-width="1.0" />
<line x1="111.15" y1="399.00" x2="111.15" y2="402.00" stroke="#000" stroke-width="1.0" />
<line x1="114.15" y1="399.00" x2="114.15" y2="402.00" stroke="#000" stroke-width="1.0" />
<line x1="116.48" y1="399.00" x2="116.48" y2="402.00" stroke="#000" stroke-width="1.0" />
<line x1="118.38" y1="399.00" x2="118.38" y2="402.00" stroke="#000" stroke-width="1.0" />
<line x1="119.98" y1="399.00" x2="119.98" y2="402.00" stroke="#000" stroke-width="1.0" />
<line x1="121.37" y1="399.00" x2="121.37" y2="402.00" stroke="#000" stroke-width="1.0" />
<line x1="122.60" y1="399.00" x2="122.60" y2="402.00" stroke="#000" stroke-width="1.0" />
<line x1="123.70" y1="399.00" x2="123.70" y2="404.00" stroke="#000" stroke-width="1.2" />
<line x1="130.92" y1="399.00" x2="130.92" y2="402.00" stroke="#000" stroke-width="1.0" />
<line x1="135.15" y1="399.00" x2="135.15" y2="402.00" stroke="#000" stroke-width="1.0" />
<line x1="138.15" y1="399.00" x2="138.15" y2="402.00" stroke="#000" stroke-width="1.0" />
<text transform="translate(57.00 416.30) scale(0.82 1)" x="0" y="0" font-size="9.5" font-weight="normal" text-anchor="middle" fill="#000"  stroke="#000" stroke-width="0.42">0</text>
<text transform="translate(75.70 414.60) scale(0.82 1)" x="0" y="0" font-size="9.5" font-weight="normal" text-anchor="middle" fill="#000"  stroke="#000" stroke-width="0.42">0.01</text>
<text transform="translate(99.70 414.60) scale(0.82 1)" x="0" y="0" font-size="9.5" font-weight="normal" text-anchor="middle" fill="#000"  stroke="#000" stroke-width="0.42">0.1</text>
<text transform="translate(123.70 414.60) scale(0.82 1)" x="0" y="0" font-size="9.5" font-weight="normal" text-anchor="middle" fill="#000"  stroke="#000" stroke-width="0.42">1</text>
<text transform="translate(23.60 350.90) rotate(-90) scale(1.0 1)" x="0" y="0" font-size="12.2" font-weight="bold" text-anchor="middle" fill="#000"  stroke="#000" stroke-width="0.25">% of survival</text>
<text x="115.80" y="435.30" font-size="12.2" font-weight="bold" text-anchor="start" fill="#000"  stroke="#000" stroke-width="0.25">CNDAC, <tspan font-weight="normal" dx="0.4">μ</tspan><tspan dx="0.8">M</tspan></text>
<path d="M68.70 306.70C70.25 307.08 74.95 307.95 78.00 309.00C81.05 310.05 84.25 311.42 87.00 313.00C89.75 314.58 92.05 316.17 94.50 318.50C96.95 320.83 99.20 322.58 101.70 327.00C104.20 331.42 107.17 338.67 109.50 345.00C111.83 351.33 113.62 358.83 115.70 365.00C117.78 371.17 120.12 378.17 122.00 382.00C123.88 385.83 125.00 386.78 127.00 388.00C129.00 389.22 132.83 389.08 134.00 389.30" stroke="#000" stroke-width="1.3" fill="none" />
<path d="M68.70 349.50C69.42 351.58 71.45 357.92 73.00 362.00C74.55 366.08 76.33 370.58 78.00 374.00C79.67 377.42 81.33 380.37 83.00 382.50C84.67 384.63 86.00 385.80 88.00 386.80C90.00 387.80 91.33 388.13 95.00 388.50C98.67 388.87 103.50 388.92 110.00 389.00C116.50 389.08 130.00 389.00 134.00 389.00" stroke="#7a7a7a" stroke-width="2.2" fill="none" />
<line x1="90.00" y1="388.90" x2="133.00" y2="388.90" stroke="#666" stroke-width="2.4" />
<path d="M72.50 332.00L87.30 377.50" stroke="#000" stroke-width="1.2" fill="none" stroke-dasharray="3 2"/>
<path d="M87.30 377.50L92.00 386.00L96.00 388.50L134.00 388.80" stroke="#000" stroke-width="1.2" fill="none" />
<line x1="75.70" y1="300.00" x2="75.70" y2="293.70" stroke="#000" stroke-width="1.1" />
<line x1="72.70" y1="293.70" x2="78.70" y2="293.70" stroke="#000" stroke-width="1.1" />
<line x1="94.50" y1="322.00" x2="94.50" y2="318.50" stroke="#000" stroke-width="1.1" />
<line x1="91.50" y1="318.50" x2="97.50" y2="318.50" stroke="#000" stroke-width="1.1" />
<line x1="109.50" y1="353.70" x2="109.50" y2="351.00" stroke="#000" stroke-width="1.1" />
<line x1="106.50" y1="351.00" x2="112.50" y2="351.00" stroke="#000" stroke-width="1.1" />
<line x1="115.70" y1="358.70" x2="115.70" y2="356.00" stroke="#000" stroke-width="1.1" />
<line x1="112.70" y1="356.00" x2="118.70" y2="356.00" stroke="#000" stroke-width="1.1" />
<line x1="60.70" y1="313.00" x2="60.70" y2="317.50" stroke="#000" stroke-width="1.1" />
<line x1="57.70" y1="317.50" x2="63.70" y2="317.50" stroke="#000" stroke-width="1.1" />
<line x1="75.70" y1="332.00" x2="75.70" y2="335.00" stroke="#000" stroke-width="1.1" />
<line x1="72.70" y1="335.00" x2="78.70" y2="335.00" stroke="#000" stroke-width="1.1" />
<line x1="75.70" y1="367.00" x2="75.70" y2="364.00" stroke="#808080" stroke-width="1.1" />
<line x1="72.70" y1="364.00" x2="78.70" y2="364.00" stroke="#808080" stroke-width="1.1" />
<line x1="75.70" y1="367.00" x2="75.70" y2="370.00" stroke="#808080" stroke-width="1.1" />
<line x1="72.70" y1="370.00" x2="78.70" y2="370.00" stroke="#808080" stroke-width="1.1" />
<path d="M58.40 324.73L60.70 320.70L63.00 324.73Z" fill="#808080" stroke="#808080" stroke-width="0.6"/>
<circle cx="60.70" cy="313.00" r="2.2" fill="#000" stroke="#000" stroke-width="0.8"/>
<path d="M57.80 305.00L60.70 302.10L63.60 305.00L60.70 307.90Z" fill="#000" stroke="#000" stroke-width="0.6"/>
<path d="M72.80 300.00L75.70 297.10L78.60 300.00L75.70 302.90Z" fill="#000" stroke="#000" stroke-width="0.6"/>
<path d="M84.10 315.00L87.00 312.10L89.90 315.00L87.00 317.90Z" fill="#000" stroke="#000" stroke-width="0.6"/>
<path d="M91.60 322.00L94.50 319.10L97.40 322.00L94.50 324.90Z" fill="#000" stroke="#000" stroke-width="0.6"/>
<path d="M98.80 327.00L101.70 324.10L104.60 327.00L101.70 329.90Z" fill="#000" stroke="#000" stroke-width="0.6"/>
<path d="M106.60 353.70L109.50 350.80L112.40 353.70L109.50 356.60Z" fill="#000" stroke="#000" stroke-width="0.6"/>
<path d="M112.80 358.70L115.70 355.80L118.60 358.70L115.70 361.60Z" fill="#000" stroke="#000" stroke-width="0.6"/>
<path d="M117.80 370.00L120.70 367.10L123.60 370.00L120.70 372.90Z" fill="#000" stroke="#000" stroke-width="0.6"/>
<path d="M73.40 368.73L75.70 364.70L78.00 368.73Z" fill="#808080" stroke="#808080" stroke-width="0.6"/>
<circle cx="75.70" cy="332.00" r="2.2" fill="#000" stroke="#000" stroke-width="0.8"/>
<circle cx="87.00" cy="378.50" r="2.2" fill="#808080" stroke="#333" stroke-width="0.8"/>
<circle cx="94.50" cy="381.00" r="2.2" fill="#000" stroke="#000" stroke-width="0.8"/>
<circle cx="102.30" cy="384.50" r="2.2" fill="#808080" stroke="#333" stroke-width="0.8"/>
<circle cx="108.70" cy="390.20" r="2.0" fill="#bbb" stroke="#111" stroke-width="1.0"/>
<circle cx="115.50" cy="390.20" r="2.0" fill="#999" stroke="#777" stroke-width="0.8"/>
<circle cx="120.50" cy="390.20" r="2.0" fill="#999" stroke="#777" stroke-width="0.8"/>
<circle cx="125.00" cy="390.20" r="2.0" fill="#999" stroke="#777" stroke-width="0.8"/>
<circle cx="131.00" cy="390.20" r="2.1" fill="#999" stroke="#333" stroke-width="0.9"/>
<text x="167.00" y="235.30" font-size="13.3" font-weight="normal" text-anchor="start" fill="#000" text-decoration="underline" stroke="#000" stroke-width="0.3">KU 25 hr</text>
<path d="M172.50 250.00L175.40 247.10L178.30 250.00L175.40 252.90Z" fill="#000" stroke="#000" stroke-width="0.6"/>
<circle cx="175.40" cy="263.50" r="2.2" fill="#000" stroke="#000" stroke-width="0.8"/>
<path d="M173.20 278.55L175.40 274.70L177.60 278.55Z" fill="#909090" stroke="#909090" stroke-width="0.6"/>
<text x="195.40" y="254.00" font-size="12.0" font-weight="normal" text-anchor="start" fill="#000"  stroke="#000" stroke-width="0.3">CNDAC alone</text>
<text x="195.40" y="267.60" font-size="12.0" font-weight="normal" text-anchor="start" fill="#000"  stroke="#000" stroke-width="0.3">1 μM KU</text>
<text x="248.00" y="268.00" font-size="11" font-weight="bold" text-anchor="start" fill="#000"  stroke="#000" stroke-width="0.25">*</text>
<text x="195.40" y="281.00" font-size="12.0" font-weight="normal" text-anchor="start" fill="#000"  stroke="#000" stroke-width="0.3">5 μM KU</text>
<text x="248.00" y="281.00" font-size="11" font-weight="bold" text-anchor="start" fill="#000"  stroke="#000" stroke-width="0.25">*</text>
<line x1="171.00" y1="292.50" x2="171.00" y2="399.00" stroke="#000" stroke-width="1.2" />
<line x1="166.00" y1="389.70" x2="171.00" y2="389.70" stroke="#000" stroke-width="1.2" />
<line x1="168.00" y1="385.46" x2="171.00" y2="385.46" stroke="#000" stroke-width="1.0" />
<line x1="168.00" y1="381.23" x2="171.00" y2="381.23" stroke="#000" stroke-width="1.0" />
<line x1="168.00" y1="377.00" x2="171.00" y2="377.00" stroke="#000" stroke-width="1.0" />
<line x1="168.00" y1="372.76" x2="171.00" y2="372.76" stroke="#000" stroke-width="1.0" />
<line x1="166.00" y1="368.52" x2="171.00" y2="368.52" stroke="#000" stroke-width="1.2" />
<line x1="168.00" y1="364.29" x2="171.00" y2="364.29" stroke="#000" stroke-width="1.0" />
<line x1="168.00" y1="360.06" x2="171.00" y2="360.06" stroke="#000" stroke-width="1.0" />
<line x1="168.00" y1="355.82" x2="171.00" y2="355.82" stroke="#000" stroke-width="1.0" />
<line x1="168.00" y1="351.58" x2="171.00" y2="351.58" stroke="#000" stroke-width="1.0" />
<line x1="166.00" y1="347.35" x2="171.00" y2="347.35" stroke="#000" stroke-width="1.2" />
<line x1="168.00" y1="343.12" x2="171.00" y2="343.12" stroke="#000" stroke-width="1.0" />
<line x1="168.00" y1="338.88" x2="171.00" y2="338.88" stroke="#000" stroke-width="1.0" />
<line x1="168.00" y1="334.64" x2="171.00" y2="334.64" stroke="#000" stroke-width="1.0" />
<line x1="168.00" y1="330.41" x2="171.00" y2="330.41" stroke="#000" stroke-width="1.0" />
<line x1="166.00" y1="326.18" x2="171.00" y2="326.18" stroke="#000" stroke-width="1.2" />
<line x1="168.00" y1="321.94" x2="171.00" y2="321.94" stroke="#000" stroke-width="1.0" />
<line x1="168.00" y1="317.70" x2="171.00" y2="317.70" stroke="#000" stroke-width="1.0" />
<line x1="168.00" y1="313.47" x2="171.00" y2="313.47" stroke="#000" stroke-width="1.0" />
<line x1="168.00" y1="309.24" x2="171.00" y2="309.24" stroke="#000" stroke-width="1.0" />
<line x1="166.00" y1="305.00" x2="171.00" y2="305.00" stroke="#000" stroke-width="1.2" />
<line x1="168.00" y1="300.76" x2="171.00" y2="300.76" stroke="#000" stroke-width="1.0" />
<line x1="168.00" y1="296.53" x2="171.00" y2="296.53" stroke="#000" stroke-width="1.0" />
<line x1="168.00" y1="292.30" x2="171.00" y2="292.30" stroke="#000" stroke-width="1.0" />
<text transform="translate(164.80 393.00) scale(0.82 1)" x="0" y="0" font-size="9.5" font-weight="normal" text-anchor="end" fill="#000"  stroke="#000" stroke-width="0.42">0</text>
<text transform="translate(164.80 371.82) scale(0.82 1)" x="0" y="0" font-size="9.5" font-weight="normal" text-anchor="end" fill="#000"  stroke="#000" stroke-width="0.42">25</text>
<text transform="translate(164.80 350.65) scale(0.82 1)" x="0" y="0" font-size="9.5" font-weight="normal" text-anchor="end" fill="#000"  stroke="#000" stroke-width="0.42">50</text>
<text transform="translate(164.80 329.48) scale(0.82 1)" x="0" y="0" font-size="9.5" font-weight="normal" text-anchor="end" fill="#000"  stroke="#000" stroke-width="0.42">75</text>
<text transform="translate(164.80 308.30) scale(0.82 1)" x="0" y="0" font-size="9.5" font-weight="normal" text-anchor="end" fill="#000"  stroke="#000" stroke-width="0.42">100</text>
<line x1="170.40" y1="399.00" x2="181.00" y2="399.00" stroke="#000" stroke-width="1.2" />
<line x1="181.00" y1="396.00" x2="181.00" y2="402.00" stroke="#000" stroke-width="1.2" />
<line x1="187.00" y1="396.00" x2="187.00" y2="402.00" stroke="#000" stroke-width="1.2" />
<line x1="187.00" y1="399.00" x2="258.70" y2="399.00" stroke="#000" stroke-width="1.2" />
<line x1="193.70" y1="399.00" x2="193.70" y2="404.00" stroke="#000" stroke-width="1.2" />
<line x1="200.92" y1="399.00" x2="200.92" y2="402.00" stroke="#000" stroke-width="1.0" />
<line x1="205.15" y1="399.00" x2="205.15" y2="402.00" stroke="#000" stroke-width="1.0" />
<line x1="208.15" y1="399.00" x2="208.15" y2="402.00" stroke="#000" stroke-width="1.0" />
<line x1="210.48" y1="399.00" x2="210.48" y2="402.00" stroke="#000" stroke-width="1.0" />
<line x1="212.38" y1="399.00" x2="212.38" y2="402.00" stroke="#000" stroke-width="1.0" />
<line x1="213.98" y1="399.00" x2="213.98" y2="402.00" stroke="#000" stroke-width="1.0" />
<line x1="215.37" y1="399.00" x2="215.37" y2="402.00" stroke="#000" stroke-width="1.0" />
<line x1="216.60" y1="399.00" x2="216.60" y2="402.00" stroke="#000" stroke-width="1.0" />
<line x1="217.70" y1="399.00" x2="217.70" y2="404.00" stroke="#000" stroke-width="1.2" />
<line x1="224.92" y1="399.00" x2="224.92" y2="402.00" stroke="#000" stroke-width="1.0" />
<line x1="229.15" y1="399.00" x2="229.15" y2="402.00" stroke="#000" stroke-width="1.0" />
<line x1="232.15" y1="399.00" x2="232.15" y2="402.00" stroke="#000" stroke-width="1.0" />
<line x1="234.48" y1="399.00" x2="234.48" y2="402.00" stroke="#000" stroke-width="1.0" />
<line x1="236.38" y1="399.00" x2="236.38" y2="402.00" stroke="#000" stroke-width="1.0" />
<line x1="237.98" y1="399.00" x2="237.98" y2="402.00" stroke="#000" stroke-width="1.0" />
<line x1="239.37" y1="399.00" x2="239.37" y2="402.00" stroke="#000" stroke-width="1.0" />
<line x1="240.60" y1="399.00" x2="240.60" y2="402.00" stroke="#000" stroke-width="1.0" />
<line x1="241.70" y1="399.00" x2="241.70" y2="404.00" stroke="#000" stroke-width="1.2" />
<line x1="248.92" y1="399.00" x2="248.92" y2="402.00" stroke="#000" stroke-width="1.0" />
<line x1="253.15" y1="399.00" x2="253.15" y2="402.00" stroke="#000" stroke-width="1.0" />
<line x1="256.15" y1="399.00" x2="256.15" y2="402.00" stroke="#000" stroke-width="1.0" />
<line x1="258.48" y1="399.00" x2="258.48" y2="402.00" stroke="#000" stroke-width="1.0" />
<text transform="translate(174.50 416.30) scale(0.82 1)" x="0" y="0" font-size="9.5" font-weight="normal" text-anchor="middle" fill="#000"  stroke="#000" stroke-width="0.42">0</text>
<text transform="translate(193.70 414.60) scale(0.82 1)" x="0" y="0" font-size="9.5" font-weight="normal" text-anchor="middle" fill="#000"  stroke="#000" stroke-width="0.42">0.01</text>
<text transform="translate(217.70 414.60) scale(0.82 1)" x="0" y="0" font-size="9.5" font-weight="normal" text-anchor="middle" fill="#000"  stroke="#000" stroke-width="0.42">0.1</text>
<text transform="translate(241.70 414.60) scale(0.82 1)" x="0" y="0" font-size="9.5" font-weight="normal" text-anchor="middle" fill="#000"  stroke="#000" stroke-width="0.42">1</text>
<path d="M186.90 308.30C188.42 308.55 193.40 309.28 196.00 309.80C198.60 310.32 200.38 310.57 202.50 311.40C204.62 312.23 207.00 313.70 208.75 314.80C210.50 315.90 211.62 316.72 213.00 318.00C214.38 319.28 215.67 320.67 217.00 322.50C218.33 324.33 219.75 326.42 221.00 329.00C222.25 331.58 223.33 334.67 224.50 338.00C225.67 341.33 226.67 344.50 228.00 349.00C229.33 353.50 231.17 360.75 232.50 365.00C233.83 369.25 234.75 371.75 236.00 374.50C237.25 377.25 238.50 379.50 240.00 381.50C241.50 383.50 243.33 385.30 245.00 386.50C246.67 387.70 249.17 388.33 250.00 388.70" stroke="#000" stroke-width="1.3" fill="none" />
<path d="M186.25 315.00C187.88 315.22 193.29 315.83 196.00 316.30C198.71 316.77 200.50 317.10 202.50 317.80C204.50 318.50 206.33 319.55 208.00 320.50C209.67 321.45 211.08 322.25 212.50 323.50C213.92 324.75 215.17 326.17 216.50 328.00C217.83 329.83 219.25 332.00 220.50 334.50C221.75 337.00 222.92 340.08 224.00 343.00C225.08 345.92 226.00 348.83 227.00 352.00C228.00 355.17 228.92 358.58 230.00 362.00C231.08 365.42 232.33 369.50 233.50 372.50C234.67 375.50 235.75 377.92 237.00 380.00C238.25 382.08 239.67 383.75 241.00 385.00C242.33 386.25 243.50 386.83 245.00 387.50C246.50 388.17 249.17 388.75 250.00 389.00" stroke="#000" stroke-width="1.2" fill="none" stroke-dasharray="3 2"/>
<path d="M186.90 315.70C188.42 315.95 193.40 316.65 196.00 317.20C198.60 317.75 200.38 317.95 202.50 319.00C204.62 320.05 207.00 322.00 208.75 323.50C210.50 325.00 211.71 326.25 213.00 328.00C214.29 329.75 215.33 331.67 216.50 334.00C217.67 336.33 218.92 339.17 220.00 342.00C221.08 344.83 222.00 347.83 223.00 351.00C224.00 354.17 224.92 357.67 226.00 361.00C227.08 364.33 228.33 368.08 229.50 371.00C230.67 373.92 231.75 376.42 233.00 378.50C234.25 380.58 235.67 382.17 237.00 383.50C238.33 384.83 238.83 385.53 241.00 386.50C243.17 387.47 248.50 388.83 250.00 389.30" stroke="#757575" stroke-width="2.1" fill="none" />
<path d="M176.40 314.73L178.70 310.70L181.00 314.73Z" fill="#808080" stroke="#808080" stroke-width="0.6"/>
<circle cx="178.70" cy="316.00" r="2.2" fill="#000" stroke="#000" stroke-width="0.8"/>
<path d="M175.80 305.00L178.70 302.10L181.60 305.00L178.70 307.90Z" fill="#000" stroke="#000" stroke-width="0.6"/>
<path d="M191.50 313.73L193.80 309.70L196.10 313.73Z" fill="#808080" stroke="#808080" stroke-width="0.6"/>
<circle cx="193.80" cy="308.50" r="2.2" fill="#000" stroke="#000" stroke-width="0.8"/>
<path d="M190.90 305.70L193.80 302.80L196.70 305.70L193.80 308.60Z" fill="#000" stroke="#000" stroke-width="0.6"/>
<path d="M202.70 332.73L205.00 328.70L207.30 332.73Z" fill="#808080" stroke="#808080" stroke-width="0.6"/>
<circle cx="205.40" cy="321.00" r="2.2" fill="#000" stroke="#000" stroke-width="0.8"/>
<path d="M202.50 321.00L205.40 318.10L208.30 321.00L205.40 323.90Z" fill="#000" stroke="#000" stroke-width="0.6"/>
<circle cx="212.30" cy="335.00" r="2.2" fill="#808080" stroke="#808080" stroke-width="0.8"/>
<path d="M209.60 322.00L212.50 319.10L215.40 322.00L212.50 324.90Z" fill="#000" stroke="#000" stroke-width="0.6"/>
<path d="M217.40 355.73L219.70 351.70L222.00 355.73Z" fill="#808080" stroke="#808080" stroke-width="0.6"/>
<circle cx="220.20" cy="331.50" r="2.2" fill="#000" stroke="#000" stroke-width="0.8"/>
<path d="M217.30 323.00L220.20 320.10L223.10 323.00L220.20 325.90Z" fill="#000" stroke="#000" stroke-width="0.6"/>
<circle cx="226.00" cy="361.00" r="2.2" fill="#808080" stroke="#666" stroke-width="0.8"/>
<path d="M231.60 362.50L234.50 359.60L237.40 362.50L234.50 365.40Z" fill="#000" stroke="#000" stroke-width="0.6"/>
<circle cx="233.70" cy="373.70" r="2.2" fill="#000" stroke="#000" stroke-width="0.8"/>
<circle cx="239.50" cy="375.50" r="2.2" fill="#000" stroke="#000" stroke-width="0.8"/>
<path d="M230.20 380.43L232.50 376.40L234.80 380.43Z" fill="#808080" stroke="#808080" stroke-width="0.6"/>
<circle cx="241.00" cy="387.00" r="2.2" fill="#808080" stroke="#808080" stroke-width="0.8"/>
<circle cx="247.50" cy="387.00" r="2.2" fill="#000" stroke="#000" stroke-width="0.8"/>
<path d="M246.40 391.73L248.70 387.70L251.00 391.73Z" fill="#808080" stroke="#808080" stroke-width="0.6"/>
<path d="M246.60 389.50L249.50 386.60L252.40 389.50L249.50 392.40Z" fill="#000" stroke="#000" stroke-width="0.6"/>
<text x="305.80" y="260.40" font-size="20" font-weight="bold" text-anchor="start" fill="#000"  stroke="#000" stroke-width="0.25">D</text>
<line x1="357.10" y1="262.60" x2="357.10" y2="403.30" stroke="#000" stroke-width="1.2" />
<line x1="352.10" y1="402.70" x2="357.10" y2="402.70" stroke="#000" stroke-width="1.2" />
<line x1="354.10" y1="396.34" x2="357.10" y2="396.34" stroke="#000" stroke-width="1.0" />
<line x1="354.10" y1="389.99" x2="357.10" y2="389.99" stroke="#000" stroke-width="1.0" />
<line x1="354.10" y1="383.63" x2="357.10" y2="383.63" stroke="#000" stroke-width="1.0" />
<line x1="354.10" y1="377.28" x2="357.10" y2="377.28" stroke="#000" stroke-width="1.0" />
<line x1="352.10" y1="370.93" x2="357.10" y2="370.93" stroke="#000" stroke-width="1.2" />
<line x1="354.10" y1="364.57" x2="357.10" y2="364.57" stroke="#000" stroke-width="1.0" />
<line x1="354.10" y1="358.21" x2="357.10" y2="358.21" stroke="#000" stroke-width="1.0" />
<line x1="354.10" y1="351.86" x2="357.10" y2="351.86" stroke="#000" stroke-width="1.0" />
<line x1="354.10" y1="345.50" x2="357.10" y2="345.50" stroke="#000" stroke-width="1.0" />
<line x1="352.10" y1="339.15" x2="357.10" y2="339.15" stroke="#000" stroke-width="1.2" />
<line x1="354.10" y1="332.80" x2="357.10" y2="332.80" stroke="#000" stroke-width="1.0" />
<line x1="354.10" y1="326.44" x2="357.10" y2="326.44" stroke="#000" stroke-width="1.0" />
<line x1="354.10" y1="320.09" x2="357.10" y2="320.09" stroke="#000" stroke-width="1.0" />
<line x1="354.10" y1="313.73" x2="357.10" y2="313.73" stroke="#000" stroke-width="1.0" />
<line x1="352.10" y1="307.38" x2="357.10" y2="307.38" stroke="#000" stroke-width="1.2" />
<line x1="354.10" y1="301.02" x2="357.10" y2="301.02" stroke="#000" stroke-width="1.0" />
<line x1="354.10" y1="294.67" x2="357.10" y2="294.67" stroke="#000" stroke-width="1.0" />
<line x1="354.10" y1="288.31" x2="357.10" y2="288.31" stroke="#000" stroke-width="1.0" />
<line x1="354.10" y1="281.96" x2="357.10" y2="281.96" stroke="#000" stroke-width="1.0" />
<line x1="352.10" y1="275.60" x2="357.10" y2="275.60" stroke="#000" stroke-width="1.2" />
<line x1="354.10" y1="269.25" x2="357.10" y2="269.25" stroke="#000" stroke-width="1.0" />
<line x1="354.10" y1="262.89" x2="357.10" y2="262.89" stroke="#000" stroke-width="1.0" />
<text transform="translate(350.90 405.40) scale(0.82 1)" x="0" y="0" font-size="9.5" font-weight="normal" text-anchor="end" fill="#000"  stroke="#000" stroke-width="0.42">0</text>
<text transform="translate(350.90 373.62) scale(0.82 1)" x="0" y="0" font-size="9.5" font-weight="normal" text-anchor="end" fill="#000"  stroke="#000" stroke-width="0.42">25</text>
<text transform="translate(350.90 341.85) scale(0.82 1)" x="0" y="0" font-size="9.5" font-weight="normal" text-anchor="end" fill="#000"  stroke="#000" stroke-width="0.42">50</text>
<text transform="translate(350.90 310.07) scale(0.82 1)" x="0" y="0" font-size="9.5" font-weight="normal" text-anchor="end" fill="#000"  stroke="#000" stroke-width="0.42">75</text>
<text transform="translate(350.90 278.30) scale(0.82 1)" x="0" y="0" font-size="9.5" font-weight="normal" text-anchor="end" fill="#000"  stroke="#000" stroke-width="0.42">100</text>
<line x1="356.50" y1="402.70" x2="498.20" y2="402.70" stroke="#000" stroke-width="1.2" />
<line x1="368.30" y1="402.70" x2="368.30" y2="408.20" stroke="#000" stroke-width="1.2" />
<line x1="380.04" y1="402.70" x2="380.04" y2="406.10" stroke="#000" stroke-width="1.0" />
<line x1="391.78" y1="402.70" x2="391.78" y2="406.10" stroke="#000" stroke-width="1.0" />
<line x1="403.52" y1="402.70" x2="403.52" y2="406.10" stroke="#000" stroke-width="1.0" />
<line x1="415.26" y1="402.70" x2="415.26" y2="406.10" stroke="#000" stroke-width="1.0" />
<line x1="427.00" y1="402.70" x2="427.00" y2="408.20" stroke="#000" stroke-width="1.2" />
<line x1="438.74" y1="402.70" x2="438.74" y2="406.10" stroke="#000" stroke-width="1.0" />
<line x1="450.48" y1="402.70" x2="450.48" y2="406.10" stroke="#000" stroke-width="1.0" />
<line x1="462.22" y1="402.70" x2="462.22" y2="406.10" stroke="#000" stroke-width="1.0" />
<line x1="473.96" y1="402.70" x2="473.96" y2="406.10" stroke="#000" stroke-width="1.0" />
<line x1="485.70" y1="402.70" x2="485.70" y2="408.20" stroke="#000" stroke-width="1.2" />
<line x1="497.44" y1="402.70" x2="497.44" y2="406.10" stroke="#000" stroke-width="1.0" />
<text transform="translate(368.30 418.20) scale(0.82 1)" x="0" y="0" font-size="9.5" font-weight="normal" text-anchor="middle" fill="#000"  stroke="#000" stroke-width="0.42">0.0</text>
<text transform="translate(427.00 418.20) scale(0.82 1)" x="0" y="0" font-size="9.5" font-weight="normal" text-anchor="middle" fill="#000"  stroke="#000" stroke-width="0.42">0.5</text>
<text transform="translate(485.70 418.20) scale(0.82 1)" x="0" y="0" font-size="9.5" font-weight="normal" text-anchor="middle" fill="#000"  stroke="#000" stroke-width="0.42">1.0</text>
<text x="392.60" y="437.20" font-size="12.2" font-weight="bold" text-anchor="start" fill="#000"  stroke="#000" stroke-width="0.25">CNDAC, <tspan font-weight="normal" dx="0.4">μ</tspan><tspan dx="0.8">M</tspan></text>
<text transform="translate(330.30 334.30) rotate(-90) scale(1.0 1)" x="0" y="0" font-size="12.5" font-weight="bold" text-anchor="middle" fill="#000"  stroke="#000" stroke-width="0.25">% of Survival</text>
<path d="M368.30 275.60L397.65 279.03L427.00 284.12L456.35 295.55L485.70 323.14" stroke="#000" stroke-width="1.3" fill="none" />
<path d="M368.30 284.88L397.65 308.01L427.00 336.61L456.35 363.30L485.70 380.46" stroke="#000" stroke-width="1.3" fill="none" />
<path d="M365.30 275.60L368.30 272.60L371.30 275.60L368.30 278.60Z" fill="#000" stroke="#000" stroke-width="0.6"/>
<path d="M394.65 279.03L397.65 276.03L400.65 279.03L397.65 282.03Z" fill="#000" stroke="#000" stroke-width="0.6"/>
<path d="M424.00 284.12L427.00 281.12L430.00 284.12L427.00 287.12Z" fill="#000" stroke="#000" stroke-width="0.6"/>
<path d="M453.35 295.55L456.35 292.55L459.35 295.55L456.35 298.55Z" fill="#000" stroke="#000" stroke-width="0.6"/>
<path d="M482.70 323.14L485.70 320.14L488.70 323.14L485.70 326.14Z" fill="#000" stroke="#000" stroke-width="0.6"/>
<circle cx="368.30" cy="284.88" r="2.5" fill="#fff" stroke="#000" stroke-width="1.3"/>
<circle cx="397.65" cy="308.01" r="2.5" fill="#fff" stroke="#000" stroke-width="1.3"/>
<circle cx="427.00" cy="336.61" r="2.5" fill="#fff" stroke="#000" stroke-width="1.3"/>
<circle cx="456.35" cy="363.30" r="2.5" fill="#fff" stroke="#000" stroke-width="1.3"/>
<circle cx="485.70" cy="380.46" r="2.5" fill="#fff" stroke="#000" stroke-width="1.3"/>
<text x="434.00" y="271.90" font-size="12.1" font-weight="normal" text-anchor="start" fill="#000"  stroke="#000" stroke-width="0.3">CNDAC alone</text>
<text x="372.00" y="352.50" font-size="12.3" font-weight="normal" text-anchor="start" fill="#000"  stroke="#000" stroke-width="0.3">KU55933</text>
<text x="372.00" y="366.20" font-size="12.3" font-weight="normal" text-anchor="start" fill="#000"  stroke="#000" stroke-width="0.3">+ CNDAC</text>
</svg>
</body></html>
